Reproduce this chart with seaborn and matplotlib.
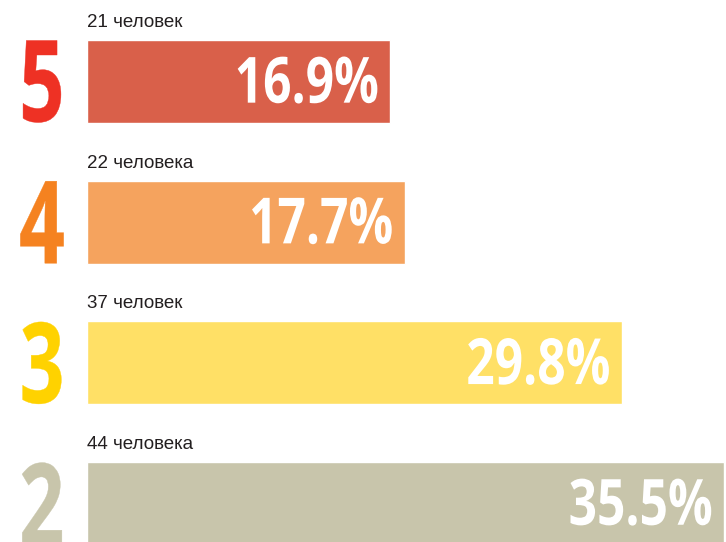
import numpy as np
import pandas as pd
import matplotlib
matplotlib.use('Agg')
import matplotlib.pyplot as plt
import seaborn as sns
from matplotlib.textpath import TextPath
from matplotlib.patches import PathPatch
from matplotlib.font_manager import FontProperties
from matplotlib.transforms import Affine2D

# data
grades = ['5', '4', '3', '2']
shares = [16.9, 17.7, 29.8, 35.5]
people = ['21 человек', '22 человека', '37 человек', '44 человека']
bar_colors = ['#D9604A', '#F5A35E', '#FFE066', '#C8C5AB']
grade_colors = ['#EE3124', '#F58220', '#FFD200', '#C8C5AB']

df = pd.DataFrame({'grade': grades, 'share': shares})

sns.set_theme(style='white')
plt.rcParams['font.family'] = ['Liberation Sans', 'DejaVu Sans']

W, H = 726, 542
left = 87
fig = plt.figure(figsize=(W / 100, H / 100), dpi=100)
ax = fig.add_axes([left / W, 0, (W - left) / W, 1])

sns.barplot(data=df, y='grade', x='share', hue='grade', palette=bar_colors,
            orient='h', width=0.59, saturation=1, legend=False, ax=ax)

px = 17.95      # pixels per percent
step = 140.7    # pixels between bar centres
ax.set_xlim(0, (W - left) / px)
ax.set_ylim((H - 81.5) / step, -81.5 / step)
ax.axis('off')


def stretched_text(s, x, y, height, xscale, color, ha, family='Open Sans', lw=0):
    # bold text squeezed horizontally, placed in pixel coords
    tp = TextPath((0, 0), s, size=100, prop=FontProperties(family=family, weight='bold'))
    bb = tp.get_extents()
    k = height / bb.height
    if ha == 'right':
        dx = -bb.x1 * k * xscale
    elif ha == 'center':
        dx = -(bb.x0 + bb.x1) / 2 * k * xscale
    else:
        dx = -bb.x0 * k * xscale
    dy = -(bb.y0 + bb.y1) / 2 * k
    tr = Affine2D().scale(k * xscale, k).translate(x + dx, y + dy)
    fig.add_artist(PathPatch(tp, transform=tr, fc=color, ec=color, lw=lw))


x_left = ax.transAxes.transform((0, 0))[0]
for i in range(len(grades)):
    _, yc = ax.transData.transform((0, i))
    x1, _ = ax.transData.transform((shares[i], i))
    # big grade number on the left
    stretched_text(grades[i], x_left - 45, yc, 82, 0.7, grade_colors[i], 'center', lw=0.3)
    # percent inside the bar
    stretched_text(f'{shares[i]:.1f}%', x1 - 13, yc + 1.5, 47, 0.78, 'white', 'right')
    # count above the bar
    ax.annotate(people[i], xy=(0, i - 0.295), xycoords=('axes fraction', 'data'),
                xytext=(0, 9.4), textcoords='offset points',
                ha='left', va='baseline', fontsize=13.5, color='#231F20')

fig.savefig('out.png', dpi=100)
